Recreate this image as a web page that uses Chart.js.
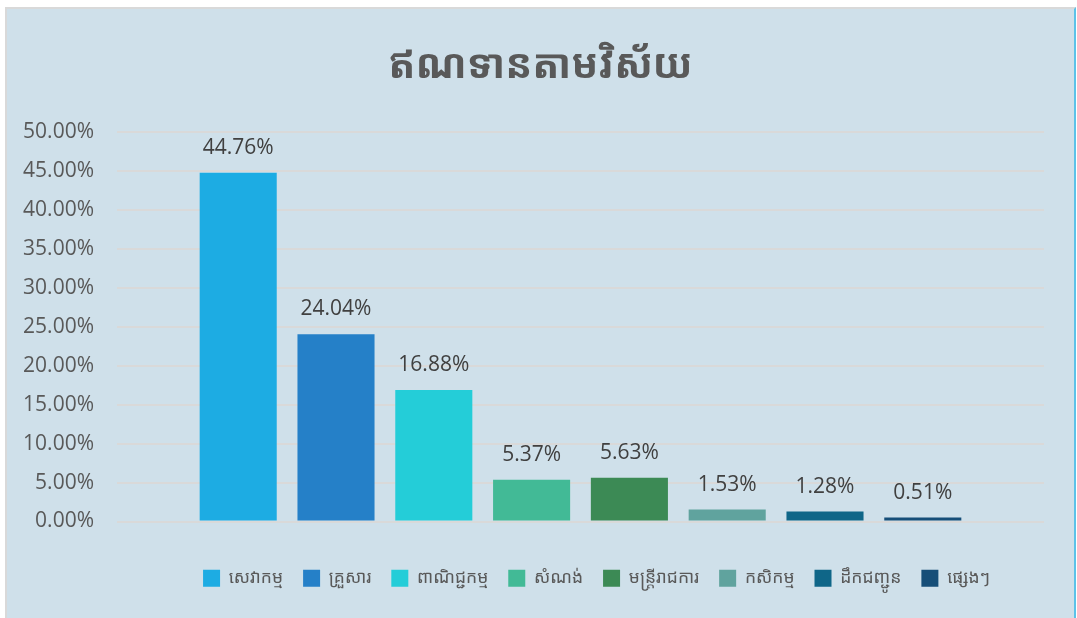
<!DOCTYPE html>
<html>
<head>
<meta charset="utf-8">
<title>ឥណទានតាមវិស័យ</title>
<script src="https://cdn.jsdelivr.net/npm/chart.js@4/dist/chart.umd.min.js"></script>
<style>
  html, body {
    margin: 0;
    padding: 0;
    background: #ffffff;
  }
  #frame {
    position: absolute;
    left: 5px;
    top: 7px;
    width: 1071px;
    height: 611px;
    box-sizing: border-box;
    background: #cfe0ea;
    border-top: 2px solid #d9d9d9;
    border-left: 2px solid #d9d9d9;
    border-right: 2px solid #5cc2e8;
  }
  #chart {
    display: block;
  }
</style>
</head>
<body>
<div id="frame">
  <canvas id="chart" width="1067" height="609"></canvas>
</div>
<script>
// data
const sectors = [
  "សេវាកម្ម",
  "គ្រួសារ",
  "ពាណិជ្ជកម្ម",
  "សំណង់",
  "មន្ត្រីរាជការ",
  "កសិកម្ម",
  "ដឹកជញ្ជូន",
  "ផ្សេងៗ",
];
const shares = [44.76, 24.04, 16.88, 5.37, 5.63, 1.53, 1.28, 0.51];
const sectorColors = [
  "#1dace3",
  "#2580c8",
  "#24cdd8",
  "#42ba96",
  "#3c8a55",
  "#60a39e",
  "#0f6688",
  "#164e78",
];
const yTicks = [0, 5, 10, 15, 20, 25, 30, 35, 40, 45, 50];

const KHMER_FONT = "'Noto Sans Khmer', 'Khmer OS System', 'Khmer OS', 'Noto Sans', sans-serif";
const NUMBER_FONT = "'Open Sans', 'Noto Sans', sans-serif";
const TITLE_SHIFT = 15;
const LEGEND_SHIFT = 71;

// draws the value above each bar (no datalabels plugin available)
const valueLabels = {
  id: "valueLabels",
  afterDatasetsDraw(chart) {
    const { ctx } = chart;
    ctx.save();
    ctx.font = `21px ${NUMBER_FONT}`;
    ctx.fillStyle = "#404040";
    ctx.textAlign = "center";
    ctx.textBaseline = "middle";
    chart.data.datasets.forEach((ds, i) => {
      const meta = chart.getDatasetMeta(i);
      meta.data.forEach((bar, j) => {
        ctx.fillText(`${ds.data[j].toFixed(2)}%`, bar.x, bar.y - 25);
      });
    });
    ctx.restore();
  },
};

// title and legend are not centred on the canvas in the original
const boxOffsets = {
  id: "boxOffsets",
  afterLayout(chart) {
    if (chart.titleBlock) {
      chart.titleBlock.left += TITLE_SHIFT;
      chart.titleBlock.right += TITLE_SHIFT;
    }
    if (chart.legend) {
      chart.legend.left += LEGEND_SHIFT;
      chart.legend.right += LEGEND_SHIFT;
    }
  },
};

const datasets = sectors.map((name, i) => ({
  label: name,
  data: [shares[i]],
  backgroundColor: sectorColors[i],
  borderWidth: 0,
  categoryPercentage: 0.844,
  barPercentage: 0.788,
}));

new Chart(document.getElementById("chart"), {
  type: "bar",
  data: {
    labels: [""],
    datasets: datasets,
  },
  options: {
    responsive: false,
    animation: false,
    layout: {
      padding: { left: 0, right: 30, top: 0, bottom: 21 },
    },
    scales: {
      x: {
        display: true,
        grid: { display: false },
        border: { display: false },
        ticks: { display: false },
        afterFit: (scale) => {
          scale.height = 28;
        },
      },
      y: {
        min: 0,
        max: 50,
        afterBuildTicks: (scale) => {
          scale.ticks = yTicks.map((v) => ({ value: v }));
        },
        afterFit: (scale) => {
          scale.width = 110;
        },
        grid: {
          color: "#d9d9d9",
          lineWidth: 2,
          drawTicks: false,
        },
        border: { display: false },
        ticks: {
          padding: 23,
          color: "#595959",
          font: { size: 21, family: NUMBER_FONT },
          callback: (value) => `${value.toFixed(2)}%`,
        },
      },
    },
    plugins: {
      title: {
        display: true,
        text: "ឥណទានតាមវិស័យ",
        color: "#595959",
        font: { size: 40, weight: "bold", family: KHMER_FONT, lineHeight: 1.2 },
        padding: { top: 34, bottom: 41 },
      },
      legend: {
        position: "bottom",
        labels: {
          boxWidth: 17,
          boxHeight: 17,
          padding: 20,
          color: "#595959",
          font: { size: 17.5, family: KHMER_FONT },
        },
      },
      tooltip: { enabled: false },
    },
  },
  plugins: [valueLabels, boxOffsets],
});
</script>
</body>
</html>
